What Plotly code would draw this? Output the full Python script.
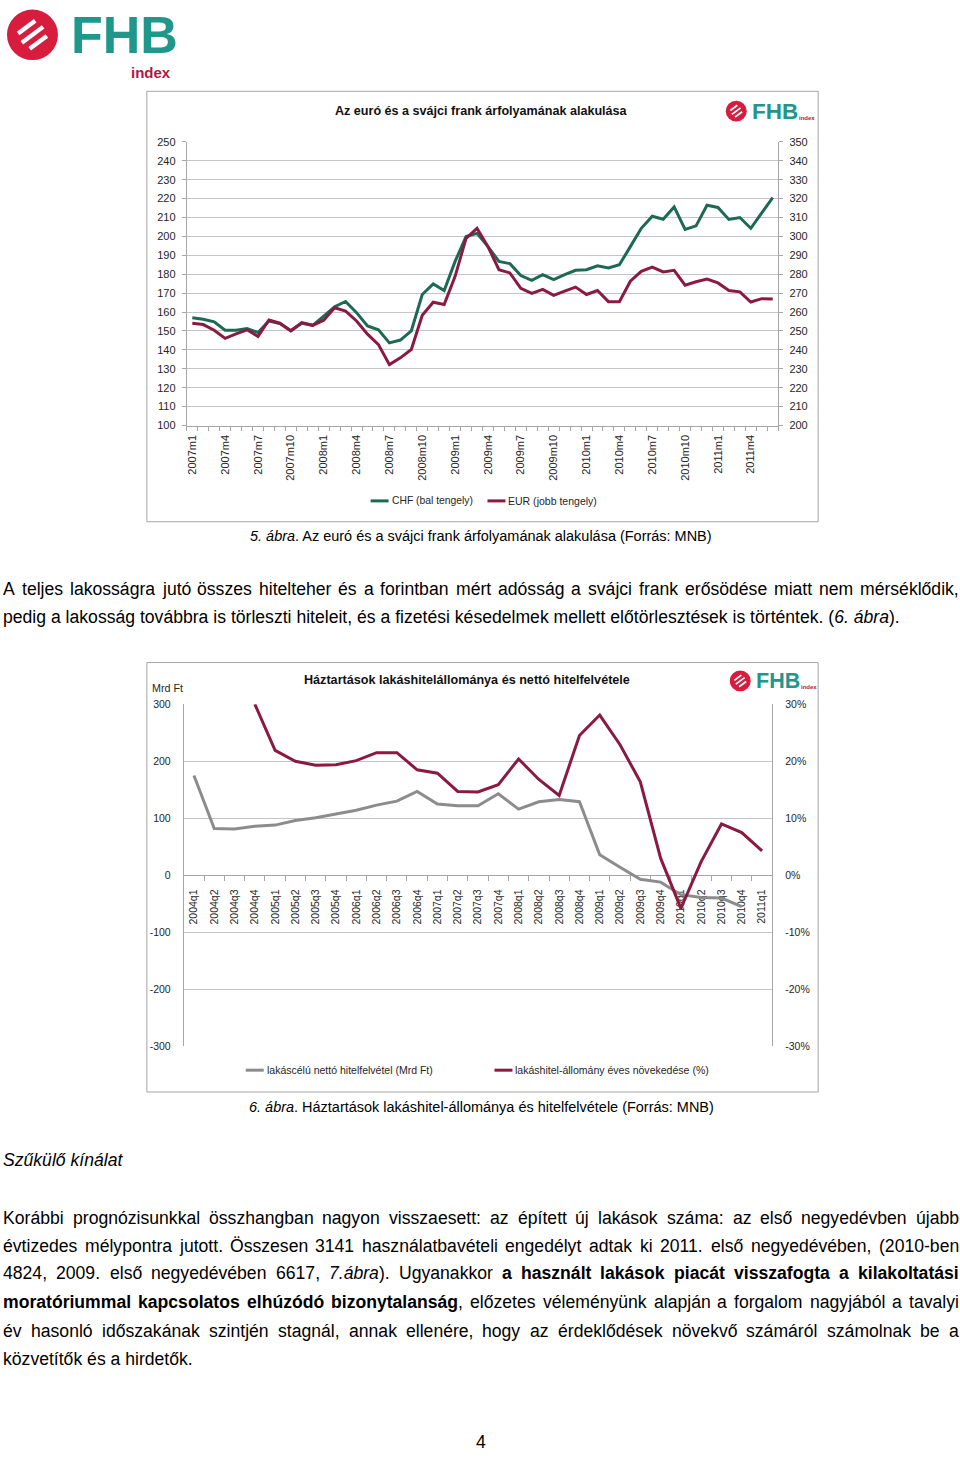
import plotly.graph_objects as go

W, H = 960, 1459
def X(px): return px / W
def Y(py): return 1 - py / H

# ---------------- data ----------------
month_labels = [f"{y}m{m}" for y in range(2007, 2012) for m in range(1, 13)][:54]
chf_huf = [157.0, 156.2, 154.8, 150.4, 150.4, 151.3, 149.2, 155.3, 153.9, 150.1, 154.1, 153.0,
           157.9, 162.8, 165.6, 159.7, 152.7, 150.6, 143.7, 145.2, 150.1, 169.3, 174.9, 171.4,
           186.8, 199.9, 201.6, 194.6, 186.8, 185.6, 179.3, 176.8, 179.8, 177.2, 179.8, 182.1,
           182.4, 184.5, 183.3, 185.0, 194.6, 204.3, 210.7, 209.1, 215.6, 203.7, 205.6, 216.5,
           215.3, 209.0, 210.0, 204.3, 212.5, 220.5]
eur_huf = [254.1, 253.4, 250.4, 246.1, 248.5, 250.6, 247.1, 255.8, 254.1, 250.1, 254.4, 253.0,
           255.7, 262.3, 260.5, 255.3, 248.3, 242.8, 232.2, 235.8, 240.2, 258.3, 265.2, 264.0,
           278.9, 299.0, 304.3, 294.6, 282.4, 280.7, 272.5, 269.9, 272.0, 268.8, 271.1, 273.2,
           269.3, 271.4, 265.5, 265.5, 276.3, 281.5, 283.8, 281.2, 282.1, 274.2, 276.0, 277.5,
           275.4, 271.4, 270.7, 265.3, 267.1, 266.9]

quarter_labels = [f"{y}q{q}" for y in range(2004, 2012) for q in range(1, 5)][:29]
net_lending = [175, 82, 81, 86, 88, 96, 101, 107, 114, 123, 130, 147,
               125, 122, 122, 143, 116, 129, 133, 129, 36, 14, -7, -12,
               -34, -39, -40, -55]
loan_growth = [None, None, None, 30.0, 21.9, 20.0, 19.3, 19.4, 20.1, 21.5, 21.5, 18.5,
               17.9, 14.7, 14.6, 15.9, 20.4, 16.8, 14.0, 24.5, 28.1, 22.9, 16.4, 3.0,
               -5.8, 2.4, 9.0, 7.5, 4.3]

left2_vals = [-300, -200, -100, 0, 100, 200, 300]
left2_text = ["-300", "-200", "-100", "0", "100", "200", "300"]
right2_vals = [-30, -20, -10, 0, 10, 20, 30]
right2_text = ["-30%", "-20%", "-10%", "0%", "10%", "20%", "30%"]

# ---------------- styles ----------------
GREEN = "#1d6a53"
MAROON = "#8a1a40"
GRAYL = "#8c8c8c"
AX = "#a6a6a6"
GRID = "#c4c4c4"
TXT = "#262626"
RED = "#d71c3e"
TEAL = "#1f978b"
FONT = "Liberation Sans, Arial, sans-serif"

# Arial-compatible metrics for fitting text
REG = {' ': 278, '!': 278, '(': 333, ')': 333, ',': 278, '-': 333, '.': 278, ':': 278, '%': 889, '/': 278}
for d in '0123456789':
    REG[d] = 556
REG.update(dict(zip("ABCDEFGHIJKLMNOPQRSTUVWXYZ",
                    [667, 667, 722, 722, 667, 611, 778, 722, 278, 500, 667, 556, 833, 722, 778, 667, 778, 722, 667, 611, 722, 667, 944, 667, 667, 611])))
REG.update(dict(zip("abcdefghijklmnopqrstuvwxyz",
                    [556, 556, 500, 556, 556, 278, 556, 556, 222, 222, 500, 222, 833, 556, 556, 556, 556, 333, 500, 278, 556, 500, 722, 500, 500, 500])))
BOLD = dict(REG)
BOLD.update(dict(zip("abcdefghijklmnopqrstuvwxyz",
                     [556, 611, 556, 611, 556, 333, 611, 611, 278, 278, 556, 278, 889, 611, 611, 611, 611, 389, 556, 333, 611, 556, 778, 556, 556, 500])))
BOLD.update(dict(zip("ABCDEFGHIJKLMNOPQRSTUVWXYZ",
                     [722, 722, 722, 722, 667, 611, 778, 722, 278, 556, 722, 611, 833, 722, 778, 667, 778, 722, 667, 611, 722, 667, 944, 667, 667, 611])))
BOLD.update({':': 333})
ACC = {'á': 'a', 'é': 'e', 'ó': 'o', 'ö': 'o', 'ő': 'o', 'ú': 'u', 'ü': 'u', 'ű': 'u',
       'Ö': 'O', 'Á': 'A', 'É': 'E', 'Ó': 'O', 'Ú': 'U', 'Ü': 'U', 'Ő': 'O', 'Ű': 'U'}

def cw(c, st):
    if c in ('í', 'Í'):
        return 278
    c = ACC.get(c, c)
    return (BOLD if st == 'b' else REG).get(c, 556)

def em(segs):
    return sum(cw(c, st) for t, st in segs for c in t) / 1000

def fit(segs, target):
    return target / em(segs)

def markup(segs):
    out = ''
    for t, st in segs:
        out += f"<b>{t}</b>" if st == 'b' else (f"<i>{t}</i>" if st == 'i' else t)
    return out

def words_of(runs):
    words, cur = [], []
    for text, st in runs:
        for ch in text:
            if ch == ' ':
                if cur:
                    words.append(cur)
                    cur = []
            else:
                if cur and cur[-1][1] == st:
                    cur[-1] = (cur[-1][0] + ch, st)
                else:
                    cur.append((ch, st))
    if cur:
        words.append(cur)
    return words

annotations = []
shapes = []

def ann(text, x, y, size, xanchor='left', color='#000', bold=False):
    annotations.append(dict(
        text=(f"<b>{text}</b>" if bold else text), x=X(x), y=Y(y), xref='paper', yref='paper',
        xanchor=xanchor, yanchor='middle', showarrow=False, borderpad=0,
        font=dict(family=FONT, size=size, color=color)))

def ann_base(text, x, baseline, size, **kw):
    # place text so that its baseline sits at the given pixel row
    ann(text, x, baseline - 0.3465 * size, size, **kw)

BODY = 17.6

def add_line(runs, y, justify, left=1, right=958, size=BODY):
    if justify:
        ws = words_of(runs)
        widths = [em(w) * size for w in ws]
        gap = (right - left - sum(widths)) / (len(ws) - 1)
        x = left
        for w, wd in zip(ws, widths):
            ann(markup(w), x, y, size)
            x += wd + gap
    else:
        ann(markup(runs), left, y, size)

def hline(x0, x1, y, color, width):
    shapes.append(dict(type='line', xref='paper', yref='paper', x0=X(x0), x1=X(x1),
                       y0=Y(y), y1=Y(y), line=dict(color=color, width=width)))

def rect(x0, y0, x1, y1, color):
    shapes.append(dict(type='rect', xref='paper', yref='paper', x0=X(x0), x1=X(x1),
                       y0=Y(y1), y1=Y(y0), line=dict(color=color, width=1), fillcolor='rgba(0,0,0,0)'))

def logo(cx, cy, r, fx, fbase, fsize, isize, index_right=False):
    shapes.append(dict(type='circle', xref='paper', yref='paper', x0=X(cx - r), x1=X(cx + r),
                       y0=Y(cy + r), y1=Y(cy - r), fillcolor=RED, line=dict(width=0)))
    d = (0.8, -0.6)
    n = (0.6, 0.8)
    for off, hl in ((-0.38, 0.42), (0.0, 0.52), (0.38, 0.42)):
        ccx, ccy = cx + n[0] * off * r, cy + n[1] * off * r
        L = hl * r
        shapes.append(dict(type='line', xref='paper', yref='paper',
                           x0=X(ccx - d[0] * L), y0=Y(ccy - d[1] * L),
                           x1=X(ccx + d[0] * L), y1=Y(ccy + d[1] * L),
                           line=dict(color='white', width=max(1.5, r * 0.17))))
    ann_base('FHB', fx, fbase, fsize, color=TEAL, bold=True)
    fw = em([('FHB', 'b')]) * fsize
    if index_right:
        # small "index" tucked against the right foot of the B
        ann_base('index', fx + fw + 1, fbase + 1, isize, color='#b01843', bold=True)
    else:
        # "index" placed just under the right half of FHB, without touching its text box
        iw = em([('index', 'b')]) * isize
        ibase = fbase + 0.215 * fsize + 0.91 * isize
        ann_base('index', fx + fw - iw - 8, ibase, isize, color='#b01843', bold=True)

# ---------------- figure ----------------
fig = go.Figure()

fig.add_trace(go.Scatter(x=list(range(len(chf_huf))), y=chf_huf, mode='lines', name='CHF (bal tengely)',
                         line=dict(color=GREEN, width=3), xaxis='x', yaxis='y', showlegend=False))
fig.add_trace(go.Scatter(x=list(range(len(eur_huf))), y=eur_huf, mode='lines', name='EUR (jobb tengely)',
                         line=dict(color=MAROON, width=3), xaxis='x', yaxis='y2', showlegend=False))
fig.add_trace(go.Scatter(x=list(range(len(net_lending))), y=net_lending, mode='lines',
                         name='lakáscélú nettó hitelfelvétel (Mrd Ft)',
                         line=dict(color=GRAYL, width=3), xaxis='x2', yaxis='y3', showlegend=False))
fig.add_trace(go.Scatter(x=list(range(len(loan_growth))), y=loan_growth, mode='lines',
                         name='lakáshitel-állomány éves növekedése (%)',
                         line=dict(color=MAROON, width=3), xaxis='x2', yaxis='y4', showlegend=False))

tf1 = dict(family=FONT, size=11, color=TXT)
tf2 = dict(family=FONT, size=10.5, color=TXT)

fig.update_layout(
    width=W, height=H, margin=dict(l=0, r=0, t=0, b=0),
    paper_bgcolor='white', plot_bgcolor='white',
    xaxis=dict(domain=[X(186), X(778)], anchor='y', range=[-0.5, 53.5],
               tickmode='array', tickvals=list(range(0, 54, 3)), ticktext=month_labels[::3],
               tickangle=-90, ticks='outside', ticklen=4, tickcolor='rgba(0,0,0,0)',
               showline=True, linecolor=AX, showgrid=False, zeroline=False, tickfont=tf1,
               minor=dict(tickmode='linear', tick0=-0.5, dtick=1, ticks='outside', ticklen=4,
                          tickcolor=AX, showgrid=False)),
    yaxis=dict(domain=[Y(423), Y(137)], anchor='x', range=[100, 250], tickmode='linear',
               tick0=100, dtick=10, ticks='outside', ticklen=4, tickcolor=AX, showline=True,
               linecolor=AX, gridcolor=GRID, zeroline=False, tickfont=tf1, ticklabelstandoff=4),
    yaxis2=dict(overlaying='y', side='right', anchor='x', range=[200, 350], tickmode='linear',
                tick0=200, dtick=10, ticks='outside', ticklen=4, tickcolor=AX, showline=True,
                linecolor=AX, showgrid=False, zeroline=False, tickfont=tf1, ticklabelstandoff=4),
    xaxis2=dict(domain=[X(183), X(772)], anchor='free', position=Y(876.5), range=[-0.5, 28.5],
                tickmode='array', tickvals=list(range(len(quarter_labels))), ticktext=quarter_labels,
                tickangle=-90, ticks='outside', ticklen=9, tickcolor='rgba(0,0,0,0)',
                showline=True, linecolor=AX, showgrid=False, zeroline=False, tickfont=tf2,
                layer='below traces',
                minor=dict(tickmode='linear', tick0=-0.5, dtick=1, ticks='outside', ticklen=5,
                           tickcolor=AX, showgrid=False)),
    yaxis3=dict(domain=[Y(1049), Y(704)], anchor='x2', range=[-300, 300], tickmode='array',
                tickvals=left2_vals, ticktext=left2_text, ticks='', showline=True, linecolor=AX,
                gridcolor=GRID, zeroline=False, tickfont=tf2, ticklabelstandoff=10),
    yaxis4=dict(overlaying='y3', side='right', anchor='x2', range=[-30, 30], tickmode='array',
                tickvals=right2_vals, ticktext=right2_text, ticks='', showline=True, linecolor=AX,
                showgrid=False, zeroline=False, tickfont=tf2, ticklabelstandoff=10),
)

# chart frames
rect(146, 86, 818, 520, AX)
rect(146, 662, 818, 1095, AX)

# chart titles
t1 = "Az euró és a svájci frank árfolyamának alakulása"
ann(t1, 481, 106, fit([(t1, 'b')], 292), xanchor='center', color='#111', bold=True)
t2 = "Háztartások lakáshitelállománya és nettó hitelfelvétele"
ann(t2, 466, 680, fit([(t2, 'b')], 326), xanchor='center', color='#111', bold=True)
ann("Mrd Ft", 150, 688, fit([("Mrd Ft", 'r')], 31), color=TXT)

# legends (drawn by hand)
lg = [("CHF (bal tengely)", GREEN, 370, 499, 81), ("EUR (jobb tengely)", MAROON, 487, 499, 89),
      ("lakáscélú nettó hitelfelvétel (Mrd Ft)", GRAYL, 245, 1073, 166),
      ("lakáshitel-állomány éves növekedése (%)", MAROON, 494, 1073, 194)]
for txt, col, x0, yy, tw in lg:
    hline(x0, x0 + 18, yy, col, 3)
    ann(txt, x0 + 20, yy, fit([(txt, 'r')], tw), color=TXT)

# logos
logo(31.5, 29, 25.5, 69, 47, 52, 15)
logo(736, 106, 10.5, 751, 114, 22.5, 6, index_right=True)
logo(740, 680.5, 10.5, 755, 688, 21.5, 6, index_right=True)

# captions
c1 = [("5. ábra", 'i'), (". Az euró és a svájci frank árfolyamának alakulása (Forrás: MNB)", 'r')]
ann(markup(c1), 480.5, 534, fit(c1, 463), xanchor='center')
c2 = [("6. ábra", 'i'), (". Háztartások lakáshitel-állománya és hitelfelvétele (Forrás: MNB)", 'r')]
ann(markup(c2), 481.5, 1110, fit(c2, 465), xanchor='center')

# body text
add_line([("A teljes lakosságra jutó összes hitelteher és a forintban mért adósság a svájci frank erősödése miatt nem mérséklődik,", 'r')], 588, True)
add_line([("pedig a lakosság továbbra is törleszti hiteleit, és a fizetési késedelmek mellett előtörlesztések is történtek. (", 'r'),
          ("6. ábra", 'i'), (").", 'r')], 616, False)
add_line([("Szűkülő kínálat", 'i')], 1164, False)
add_line([("Korábbi prognózisunkkal összhangban nagyon visszaesett: az épített új lakások száma: az első negyedévben újabb", 'r')], 1222, True)
add_line([("évtizedes mélypontra jutott. Összesen 3141 használatbavételi engedélyt adtak ki 2011. első negyedévében, (2010-ben", 'r')], 1250, True)
add_line([("4824, 2009. első negyedévében 6617, ", 'r'), ("7.ábra", 'i'), ("). Ugyanakkor ", 'r'),
          ("a használt lakások piacát visszafogta a kilakoltatási", 'b')], 1278, True)
add_line([("moratóriummal kapcsolatos elhúzódó bizonytalanság", 'b'),
          (", előzetes véleményünk alapján a forgalom nagyjából a tavalyi", 'r')], 1307, True)
add_line([("év hasonló időszakának szintjén stagnál, annak ellenére, hogy az érdeklődések növekvő számáról számolnak be a", 'r')], 1336, True)
add_line([("közvetítők és a hirdetők.", 'r')], 1364, False)

ann("4", 480, 1448, BODY, xanchor='center')

fig.update_layout(annotations=annotations, shapes=shapes)

fig.write_html("out.html", config={'displayModeBar': False},
               post_script="document.body.style.margin='0';document.body.style.overflow='hidden';")
